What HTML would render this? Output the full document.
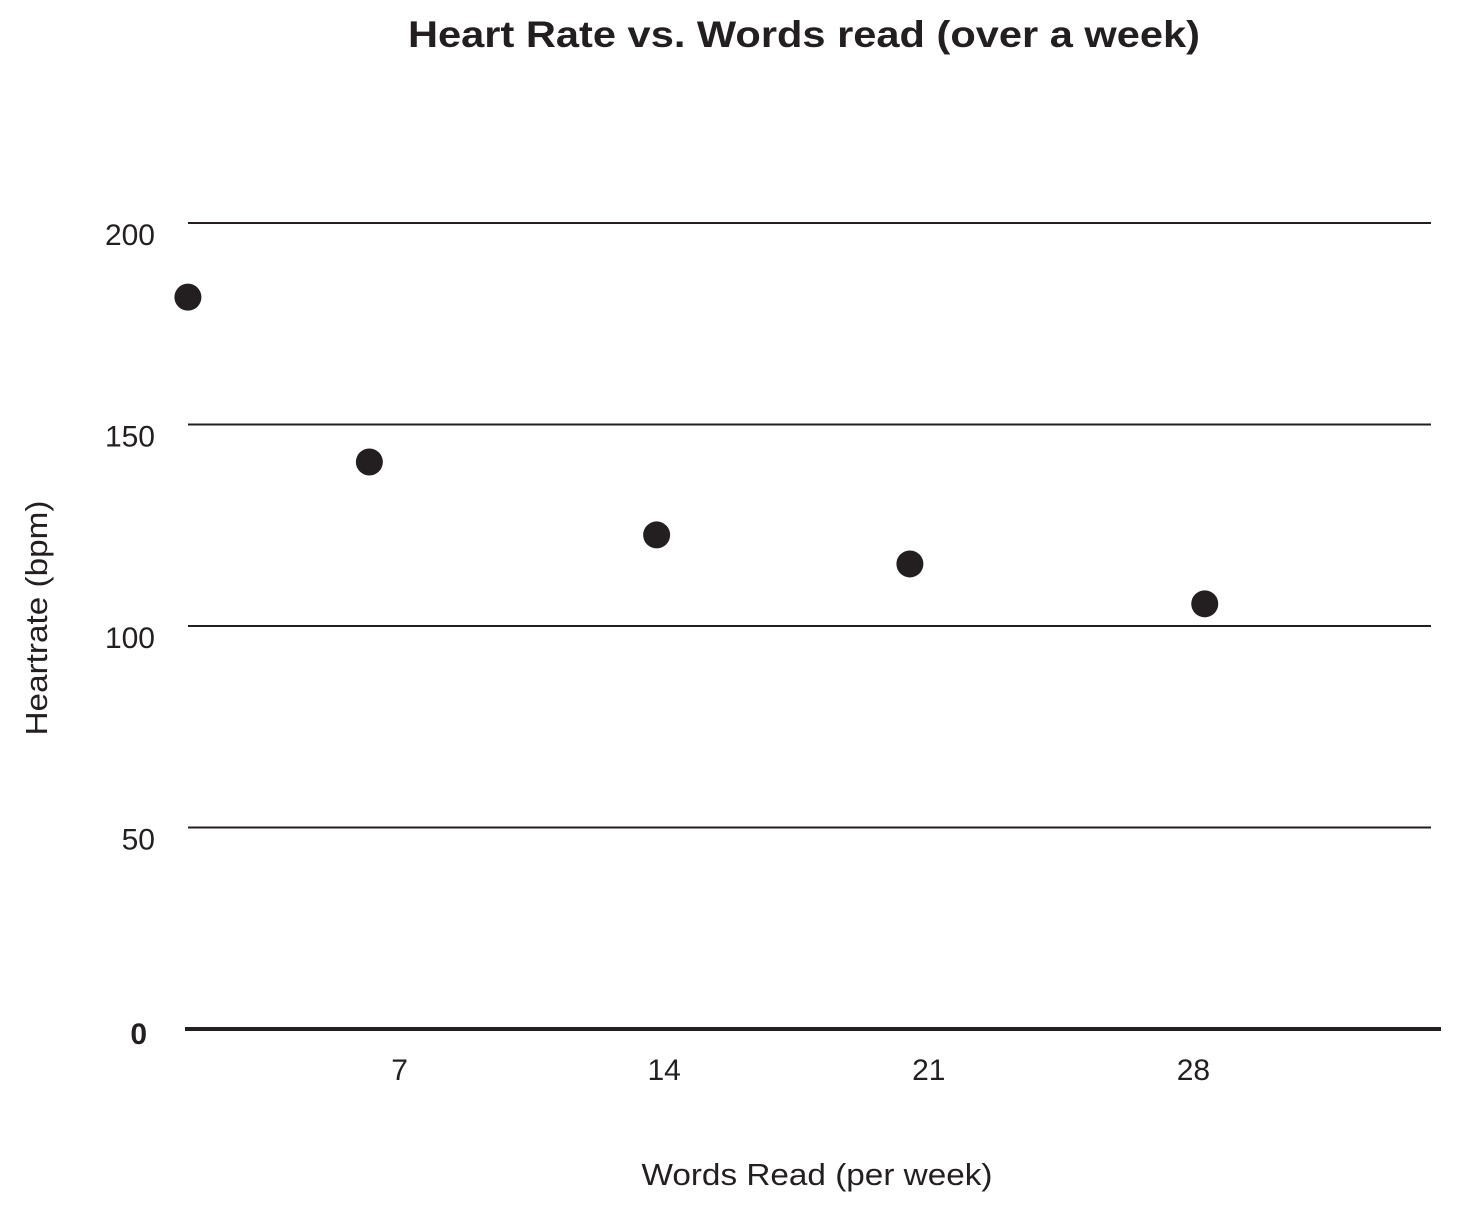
<!DOCTYPE html>
<html><head><meta charset="utf-8"><style>
body{margin:0;background:#fff;}
svg text{font-family:"Liberation Sans",Arial,sans-serif;fill:#231f20;}
</style></head><body>
<svg id="chart" width="1467" height="1210">
<text x="804" y="47" text-anchor="middle" font-size="37" font-weight="bold" textLength="792" lengthAdjust="spacingAndGlyphs">Heart Rate vs. Words read (over a week)</text>
<text x="817" y="1185" text-anchor="middle" font-size="31" textLength="351" lengthAdjust="spacingAndGlyphs">Words Read (per week)</text>
<text transform="translate(47,618) rotate(-90)" text-anchor="middle" font-size="31" textLength="235" lengthAdjust="spacingAndGlyphs">Heartrate (bpm)</text>
<g id="grid"></g><g id="ylabels"></g><g id="xlabels"></g><g id="points"></g>
</svg>
<script>
const yTicks=[50,100,150,200];
const xTicks=[7,14,21,28];
const xValues=[1.4,6.2,13.8,20.5,28.3];
const yValues=[181.6,140.7,122.6,115.4,105.5];
const NS="http://www.w3.org/2000/svg";
function xs(v){return 135+v*37.8;}
function ys(v){return 1029-v*4.03;}
function mk(t,a,p){const e=document.createElementNS(NS,t);for(const k in a)e.setAttribute(k,a[k]);document.getElementById(p).appendChild(e);return e;}
yTicks.forEach(v=>{
 const l=mk('line',{x1:188,x2:1431,y1:ys(v),y2:ys(v),stroke:'#231f20','stroke-width':2},'grid');
 
 
 const t=mk('text',{x:155,y:ys(v)+22,'text-anchor':'end','font-size':30},'ylabels');
 t.textContent=v;
 
 
});
const base=mk('line',{x1:185,x2:1441,y1:ys(0),y2:ys(0),stroke:'#231f20','stroke-width':4},'grid');


const z=mk('text',{x:147,y:ys(0)+15,'text-anchor':'end','font-size':30,'font-weight':'bold'},'ylabels');
z.textContent='0';


xTicks.forEach(v=>{
 const t=mk('text',{x:xs(v),y:1080,'text-anchor':'middle','font-size':30},'xlabels');
 t.textContent=v;
 
 
});
xValues.forEach((v,i)=>{
 const c=mk('circle',{cx:xs(v),cy:ys(yValues[i]),r:13.5,fill:'#231f20'},'points');
 
 
});
</script>
</body></html>
